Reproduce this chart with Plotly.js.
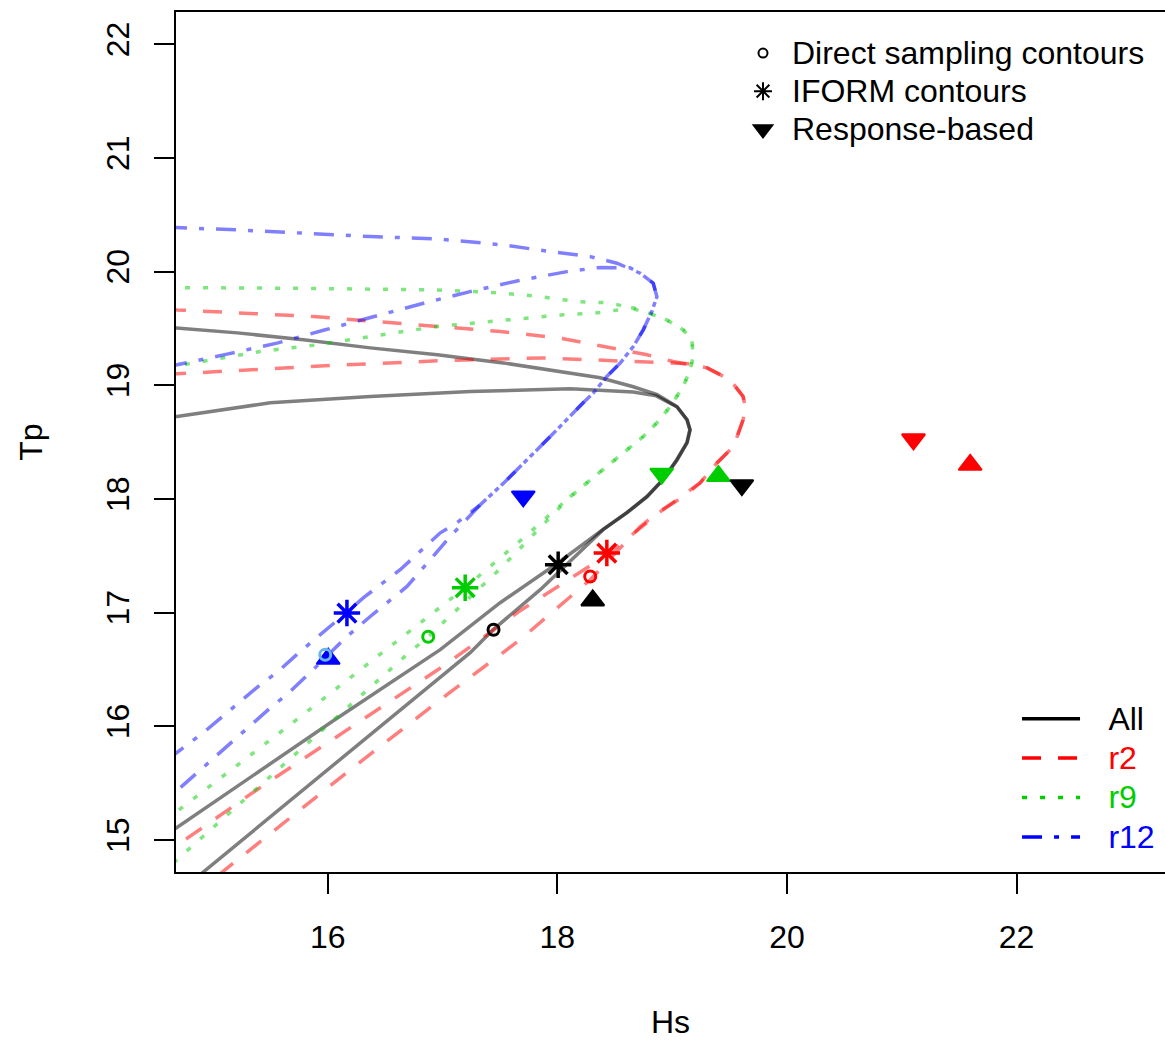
<!DOCTYPE html>
<html><head><meta charset="utf-8">
<script src="https://cdn.plot.ly/plotly-3.0.1.min.js"></script>
<style>html,body{margin:0;padding:0;background:#fff}</style>
</head><body>
<div id="chart" style="width:1165px;height:1042px"></div>
<script>
// ---- Contours: two arcs per case (Hs, Tp) ----
const allA_hs = [14.60, 14.681, 15.212, 15.787, 16.370, 16.954, 17.528, 17.938, 18.373, 18.661, 18.870, 19.044, 19.131, 19.157, 19.131, 19.044, 18.922, 18.782, 18.608, 18.399, 18.199, 17.851, 17.441, 17.241, 16.806, 16.022, 15.325, 14.916, 14.803];
const allA_tp = [19.51, 19.505, 19.461, 19.400, 19.329, 19.268, 19.197, 19.136, 19.066, 18.987, 18.917, 18.811, 18.697, 18.609, 18.495, 18.345, 18.169, 18.020, 17.879, 17.730, 17.536, 17.202, 16.850, 16.648, 16.288, 15.637, 15.064, 14.721, 14.624];
const allB_hs = [14.60, 14.687, 15.499, 16.370, 17.241, 18.112, 18.661, 18.861, 19.040, 19.128, 19.154, 19.128, 19.040, 18.918, 18.778, 18.604, 18.395, 18.007, 17.502, 16.980, 16.048, 15.412, 14.687, 14.455];
const allB_tp = [18.72, 18.725, 18.846, 18.901, 18.945, 18.969, 18.940, 18.907, 18.811, 18.697, 18.609, 18.495, 18.345, 18.169, 18.020, 17.879, 17.730, 17.439, 17.087, 16.674, 16.049, 15.609, 15.106, 14.950];

const r2A_hs = [14.60, 14.687, 15.874, 17.093, 17.502, 18.025, 18.373, 18.782, 19.009, 19.305, 19.505, 19.618, 19.636, 19.618, 19.566, 19.505, 19.392, 19.244, 19.096, 18.870, 18.721, 18.286, 17.676, 17.038, 16.196, 15.134, 15.020];
const r2A_tp = [19.67, 19.663, 19.605, 19.508, 19.473, 19.415, 19.347, 19.268, 19.209, 19.153, 19.048, 18.901, 18.813, 18.696, 18.549, 18.432, 18.318, 18.142, 18.019, 17.878, 17.755, 17.289, 16.762, 16.278, 15.618, 14.756, 14.668];
const r2B_hs = [14.60, 14.687, 16.022, 16.951, 17.877, 18.608, 19.157, 19.305, 19.505, 19.618, 19.636, 19.618, 19.566, 19.505, 19.392, 19.244, 18.895, 18.434, 17.676, 17.023, 16.196, 15.383, 14.846, 14.628];
const r2B_tp = [19.11, 19.101, 19.174, 19.215, 19.241, 19.209, 19.189, 19.153, 19.048, 18.901, 18.813, 18.696, 18.549, 18.432, 18.318, 18.142, 17.886, 17.508, 17.017, 16.541, 15.987, 15.442, 15.064, 14.915];

const r9A_hs = [14.60, 14.680, 15.761, 16.951, 17.502, 17.851, 18.170, 18.460, 18.634, 18.922, 19.096, 19.172, 19.183, 19.157, 19.096, 18.983, 18.867, 18.748, 18.573, 18.399, 18.257, 18.112, 17.502, 16.875, 16.704, 15.761, 14.687, 14.541];
const r9A_tp = [19.86, 19.860, 19.853, 19.839, 19.813, 19.780, 19.736, 19.725, 19.681, 19.593, 19.488, 19.400, 19.253, 19.135, 18.989, 18.813, 18.670, 18.549, 18.406, 18.256, 18.142, 18.019, 17.386, 16.788, 16.644, 15.794, 14.827, 14.695];
const r9B_hs = [14.60, 14.687, 15.412, 15.906, 16.370, 16.951, 17.415, 17.735, 18.051, 18.344, 18.661, 18.922, 19.096, 19.172, 19.183, 19.157, 19.096, 18.983, 18.867, 18.748, 18.573, 18.399, 18.257, 18.112, 17.676, 17.197, 16.486, 15.673, 14.687, 14.455];
const r9B_tp = [19.16, 19.171, 19.297, 19.356, 19.429, 19.517, 19.561, 19.593, 19.620, 19.637, 19.681, 19.593, 19.488, 19.400, 19.253, 19.135, 18.989, 18.813, 18.670, 18.549, 18.406, 18.256, 18.142, 18.019, 17.632, 17.219, 16.659, 16.014, 15.252, 15.073];

const r12A_hs = [14.60, 14.687, 15.209, 15.787, 16.370, 16.951, 17.528, 17.938, 18.286, 18.519, 18.721, 18.835, 18.867, 18.823, 18.748, 18.661, 18.547, 18.431, 18.312, 18.225, 18.083, 17.938, 17.735, 17.531, 17.328, 17.067, 16.893, 16.690, 16.370, 16.167, 15.935, 15.674, 15.482, 15.308, 15.107, 14.933, 14.730, 14.628];
const r12A_tp = [20.39, 20.387, 20.367, 20.338, 20.308, 20.288, 20.235, 20.176, 20.132, 20.074, 19.986, 19.898, 19.780, 19.648, 19.488, 19.341, 19.195, 19.077, 18.931, 18.846, 18.696, 18.549, 18.344, 18.139, 17.948, 17.670, 17.466, 17.230, 16.966, 16.790, 16.559, 16.307, 16.146, 15.988, 15.812, 15.647, 15.471, 15.381];
const r12B_hs = [14.60, 14.687, 15.122, 15.558, 15.978, 16.399, 16.834, 17.241, 17.648, 18.083, 18.373, 18.634, 18.721, 18.835, 18.867, 18.823, 18.748, 18.661, 18.547, 18.431, 18.312, 18.225, 18.083, 17.938, 17.735, 17.531, 17.328, 17.125, 16.980, 16.631, 16.309, 16.161, 15.761, 15.569, 15.395, 15.209, 14.916, 14.774, 14.585];
const r12B_tp = [19.17, 19.180, 19.274, 19.371, 19.488, 19.605, 19.722, 19.824, 19.918, 20.000, 20.037, 20.033, 19.986, 19.898, 19.780, 19.648, 19.488, 19.341, 19.195, 19.077, 18.931, 18.846, 18.696, 18.549, 18.344, 18.139, 17.948, 17.790, 17.702, 17.377, 17.130, 16.998, 16.659, 16.483, 16.351, 16.190, 15.944, 15.838, 15.689];

// ---- Design points (order: All, r2, r9, r12) ----
const cases = ['All', 'r2', 'r9', 'r12'];
const iform_hs = [18.007, 18.431, 17.197, 16.167];
const iform_tp = [17.421, 17.524, 17.219, 16.996];
const ds_hs = [17.444, 18.286, 16.875, 15.978];
const ds_tp = [16.849, 17.318, 16.788, 16.629];
const respUp_hs = [18.308, 21.596, 19.403, 16.004];
const respUp_tp = [17.107, 18.300, 18.201, 16.594];
const respDown_hs = [19.607, 21.102, 18.909, 17.703];
const respDown_tp = [18.121, 18.525, 18.222, 18.022];

const xTicks = [16, 18, 20, 22];
const yTicks = [15, 16, 17, 18, 19, 20, 21, 22];
const markerLegend = ['Direct sampling contours', 'IFORM contours', 'Response-based'];

// ---- styles ----
const FONT = '"Liberation Sans", Arial, Helvetica, sans-serif';
const solidCol = ['#000000', '#FF0000', '#00CD00', '#0000FF'];
const fadeCol = ['rgba(0,0,0,0.5)', 'rgba(255,0,0,0.5)', 'rgba(0,205,0,0.5)', 'rgba(0,0,255,0.5)'];
const dsCol = ['#000000', '#FF0000', '#00CD00', '#6CB6E8'];
const dashes = ['solid', '19px,17px', '5px,13px', '20px,12px,5px,12px'];
const arcSets = [
  [allA_hs, allA_tp, allB_hs, allB_tp],
  [r2A_hs, r2A_tp, r2B_hs, r2B_tp],
  [r9A_hs, r9A_tp, r9B_hs, r9B_tp],
  [r12A_hs, r12A_tp, r12B_hs, r12B_tp]
];

const traces = [];
arcSets.forEach((s, i) => {
  traces.push({
    type: 'scatter', mode: 'lines',
    x: s[0].concat([null], s[2]), y: s[1].concat([null], s[3]),
    line: {color: fadeCol[i], width: 3.5, dash: dashes[i]},
    connectgaps: false, showlegend: false, hoverinfo: 'skip'
  });
});
traces.push({
  type: 'scatter', mode: 'markers', x: respUp_hs, y: respUp_tp, showlegend: false,
  marker: {symbol: 'triangle-up', size: 20, color: solidCol, line: {color: solidCol, width: 2}}
});
traces.push({
  type: 'scatter', mode: 'markers', x: respDown_hs, y: respDown_tp, showlegend: false,
  marker: {symbol: 'triangle-down', size: 20, color: solidCol, line: {color: solidCol, width: 2}}
});
traces.push({
  type: 'scatter', mode: 'markers', x: ds_hs, y: ds_tp, showlegend: false,
  marker: {symbol: 'circle-open', size: 11, color: dsCol, line: {color: dsCol, width: 3}}
});
traces.push({
  type: 'scatter', mode: 'markers', x: iform_hs, y: iform_tp, showlegend: false,
  marker: {symbol: 'asterisk-open', size: 22, color: solidCol, line: {color: solidCol, width: 3.5}}
});

// legend 1: marker meaning
const legSymbols = ['circle-open', 'asterisk-open', 'triangle-down'];
const legSizes = [9, 15, 16];
markerLegend.forEach((t, i) => {
  traces.push({
    type: 'scatter', mode: 'markers', x: [null], y: [null], legend: 'legend',
    name: '<span style="font-size:32px">' + t + '</span>',
    marker: {symbol: legSymbols[i], size: legSizes[i], color: '#000', line: {color: '#000', width: 2}}
  });
});
// legend 2: cases
cases.forEach((c, i) => {
  traces.push({
    type: 'scatter', mode: 'lines', x: [null], y: [null], legend: 'legend2',
    name: '\u00A0\u00A0\u00A0<span style="font-size:32px;color:' + solidCol[i] + '">' + c + '</span>',
    line: {color: solidCol[i], width: 3.5, dash: dashes[i]}
  });
});

const layout = {
  width: 1165, height: 1042,
  margin: {l: 176, r: 0, t: 12, b: 170, pad: 0},
  paper_bgcolor: '#ffffff', plot_bgcolor: '#ffffff',
  font: {family: FONT, size: 32, color: '#000'},
  showlegend: true,
  xaxis: {
    range: [14.678, 23.293], tickvals: xTicks, ticktext: xTicks.map(String),
    ticks: 'outside', ticklen: 20, tickwidth: 2, tickcolor: '#000',
    showline: true, linewidth: 2, linecolor: '#000', mirror: true,
    showgrid: false, zeroline: false, automargin: false,
    tickfont: {family: FONT, size: 32, color: '#000'}, ticklabelstandoff: 16,
    title: {text: 'Hs', font: {family: FONT, size: 32, color: '#000'}, standoff: 56}
  },
  yaxis: {
    range: [14.718, 22.284], tickvals: yTicks, ticktext: yTicks.map(String),
    ticks: 'outside', ticklen: 20, tickwidth: 2, tickcolor: '#000',
    showline: true, linewidth: 2, linecolor: '#000', mirror: false,
    showgrid: false, zeroline: false, automargin: false, tickangle: -90,
    tickfont: {family: FONT, size: 32, color: '#000'}, ticklabelstandoff: 12,
    title: {text: 'Tp', font: {family: FONT, size: 32, color: '#000'}, standoff: 48}
  },
  legend: {
    x: 0.5642, y: 0.9802, xanchor: 'left', yanchor: 'top',
    bgcolor: 'rgba(0,0,0,0)', borderwidth: 0, itemwidth: 48,
    font: {family: FONT, size: 27, color: '#000'}, itemclick: false, itemdoubleclick: false
  },
  legend2: {
    x: 0.8504, y: 0.20698, xanchor: 'left', yanchor: 'top',
    bgcolor: 'rgba(0,0,0,0)', borderwidth: 0, itemwidth: 58,
    font: {family: FONT, size: 28, color: '#000'}, itemclick: false, itemdoubleclick: false
  }
};

Plotly.newPlot('chart', traces, layout, {displayModeBar: false, staticPlot: true});
</script>
</body></html>
